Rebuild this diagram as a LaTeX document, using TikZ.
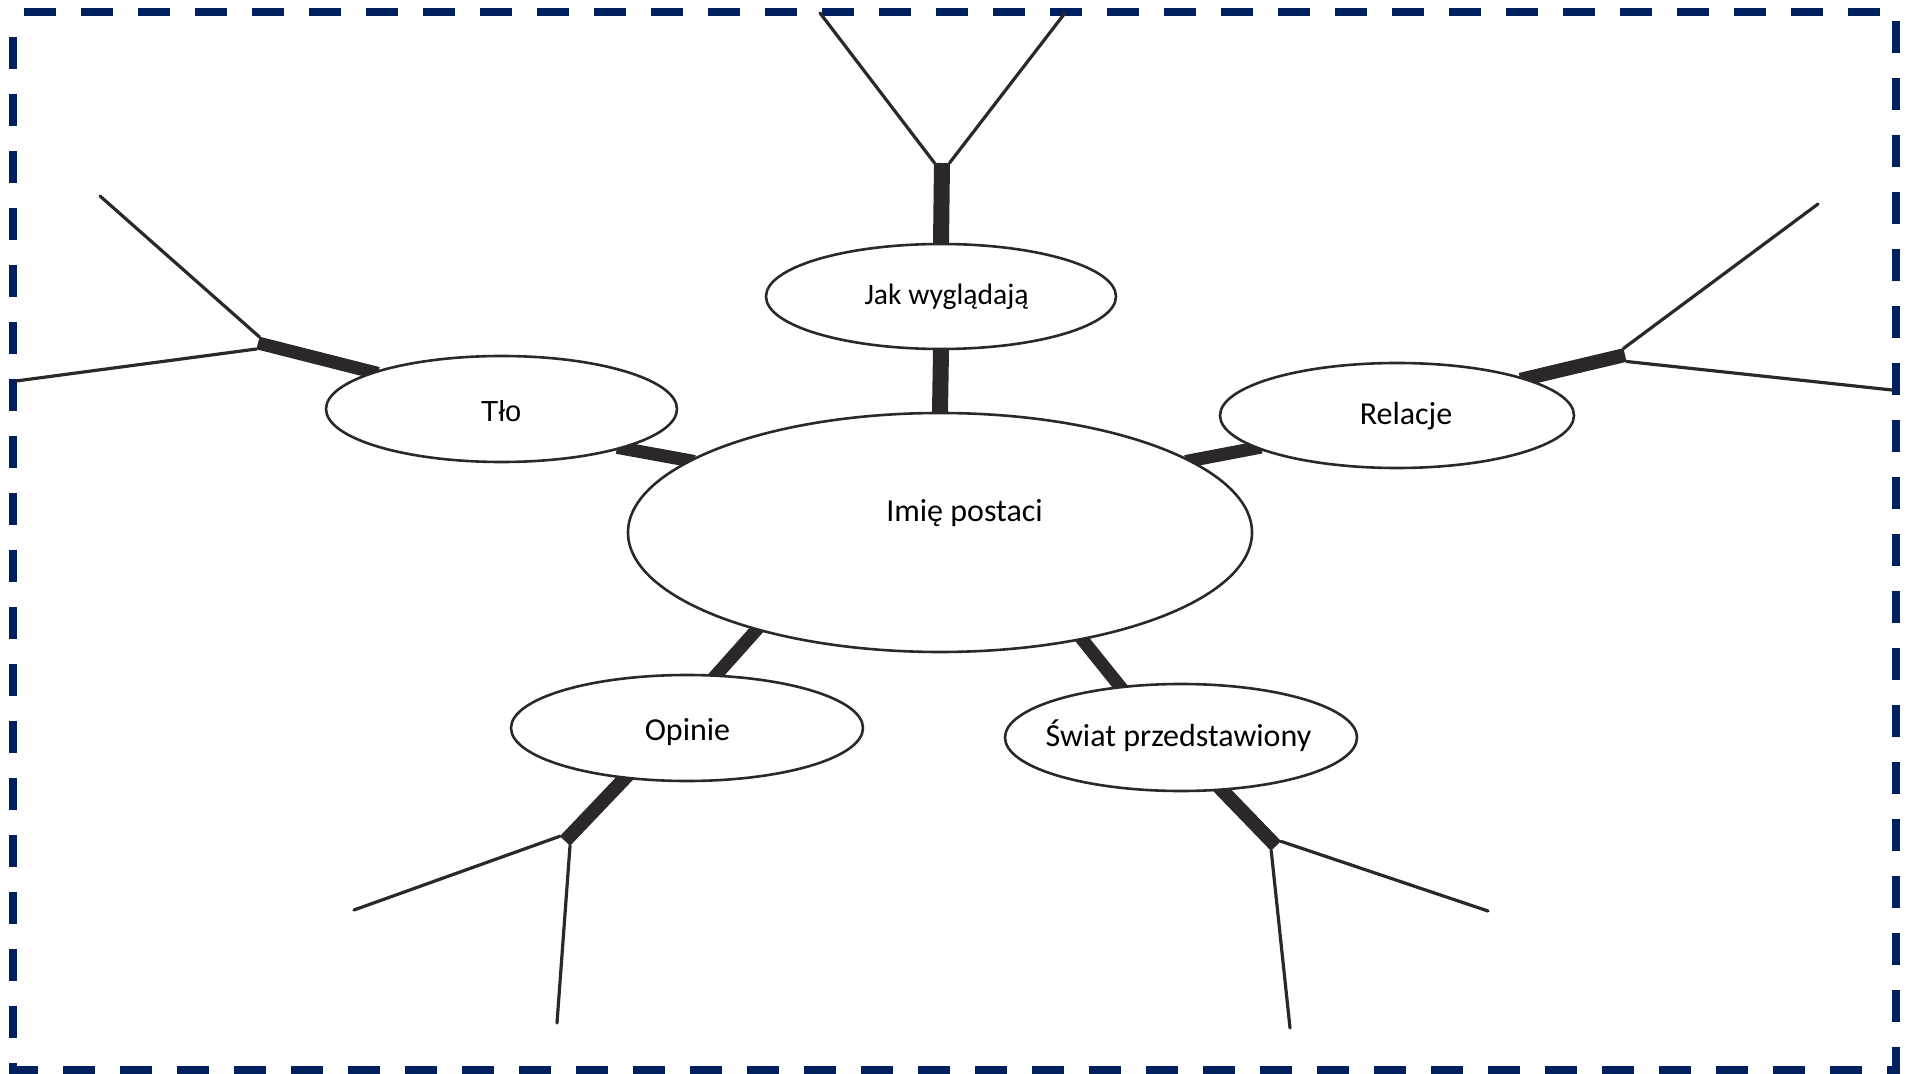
\documentclass[tikz,border=0pt]{standalone}
\usepackage{fontspec}
\setmainfont{Carlito}
\newfontfamily\tlofont{Liberation Sans}
\usetikzlibrary{shapes.geometric,backgrounds}
\definecolor{framenavy}{RGB}{0,32,96}
\definecolor{ink}{RGB}{44,40,40}

\begin{document}
\begin{tikzpicture}[x=0.5pt,y=-0.5pt,
  bubble/.style={ellipse, draw=ink, line width=1.3pt, fill=white, inner sep=0pt},
  txt/.style={inner sep=0pt, anchor=base, text=black, font=\fontsize{16pt}{19pt}\selectfont},
  stem/.style={draw=ink, line width=6.5pt, line cap=butt},
  widestem/.style={stem, line width=8pt},
  twig/.style={draw=ink, line width=1.6pt, line cap=round},
]
\useasboundingbox (0,0) rectangle (1906,1074);

% dashed outer frame
\draw[framenavy, line width=4pt, dash pattern=on 16pt off 12.5pt, dash phase=16pt]
  (13,12) rectangle (1896,1070);

% bubbles
\node[bubble, minimum width=312pt, minimum height=119.5pt] (c)   at (940,532.5) {};
\node[bubble, minimum width=175pt, minimum height=52.5pt]  (jak) at (941,296.5) {};
\node[bubble, minimum width=175.5pt, minimum height=53pt]  (tlo) at (501.5,409) {};
\node[bubble, minimum width=177pt, minimum height=52.5pt]  (rel) at (1397,415.5) {};
\node[bubble, minimum width=176pt, minimum height=53pt]    (opi) at (687,728) {};
\node[bubble, minimum width=176pt, minimum height=53.5pt]  (swi) at (1181,737.5) {};

% texts
\node[txt] (tc)   at (964.5,522) {Imię postaci};
\node[txt, font=\fontsize{14.8pt}{18pt}\selectfont] (tjak) at (946.5,305) {Jak wyglądają};
\node[txt, font=\fontsize{14.5pt}{17pt}\tlofont] (ttlo) at (501,422) {Tło};
\node[txt] (trel) at (1406,425) {Relacje};
\node[txt] (topi) at (687.5,740) {Opinie};
\node[txt] (tswi) at (1178.5,746) {Świat przedstawiony};

% branch junctions and the corners where the thin twigs start
\coordinate (j1)  at (942,163);
\coordinate (j1L) at (934.5,163);   \coordinate (j1R) at (949.5,163);
\coordinate (j2)  at (258,343);
\coordinate (j2U) at (259.5,337); \coordinate (j2D) at (256.5,349);
\coordinate (j3)  at (1625,355);
\coordinate (j3U) at (1623.4,348.5); \coordinate (j3D) at (1626.6,361.5);
\coordinate (j4)  at (565,841);
\coordinate (j4L) at (560,836.2); \coordinate (j4R) at (570,845.8);
\coordinate (j5)  at (1276,846);
\coordinate (j5R) at (1280.8,841.3); \coordinate (j5L) at (1271.2,850.7);

% free ends of the twigs
\coordinate (e1a) at (820,13);   \coordinate (e1b) at (1065,13);
\coordinate (e2a) at (100,196);  \coordinate (e2b) at (16,381);
\coordinate (e3a) at (1818,204); \coordinate (e3b) at (1892,390);
\coordinate (e4a) at (354,910);  \coordinate (e4b) at (557,1023);
\coordinate (e5a) at (1488,911); \coordinate (e5b) at (1290,1028);

\begin{scope}[on background layer]
  % stems between the centre and the bubbles
  \draw[widestem, shorten <=-3pt, shorten >=-3pt] (c.north) -- (jak.south);
  \draw[stem, shorten <=-3pt, shorten >=-3pt] (c.164.5) -- (tlo.342);
  \draw[stem, shorten <=-3pt, shorten >=-3pt] (c.16) -- (rel.193);
  \draw[stem, shorten <=-3pt, shorten >=-3pt] (c.208) -- (opi.61);
  \draw[stem, shorten <=-3pt, shorten >=-3pt] (c.323) -- (swi.140);
  % outer stems
  \draw[widestem, shorten <=-3pt] (jak.north) -- (j1);
  \draw[stem, shorten <=-3pt] (tlo.164) -- (j2);
  \draw[stem, line width=7pt, shorten <=-3pt] (rel.16) -- (j3);
  \draw[stem, line width=7pt, shorten <=-3pt] (opi.219) -- (j4);
  \draw[stem, line width=7pt, shorten <=-3pt] (swi.308) -- (j5);
\end{scope}

% twigs
\draw[twig] (j1L) -- (e1a);  \draw[twig] (j1R) -- (e1b);
\draw[twig] (j2U) -- (e2a);  \draw[twig] (j2D) -- (e2b);
\draw[twig] (j3U) -- (e3a);  \draw[twig] (j3D) -- (e3b);
\draw[twig] (j4L) -- (e4a);  \draw[twig] (j4R) -- (e4b);
\draw[twig] (j5R) -- (e5a);  \draw[twig] (j5L) -- (e5b);
\end{tikzpicture}
\end{document}
